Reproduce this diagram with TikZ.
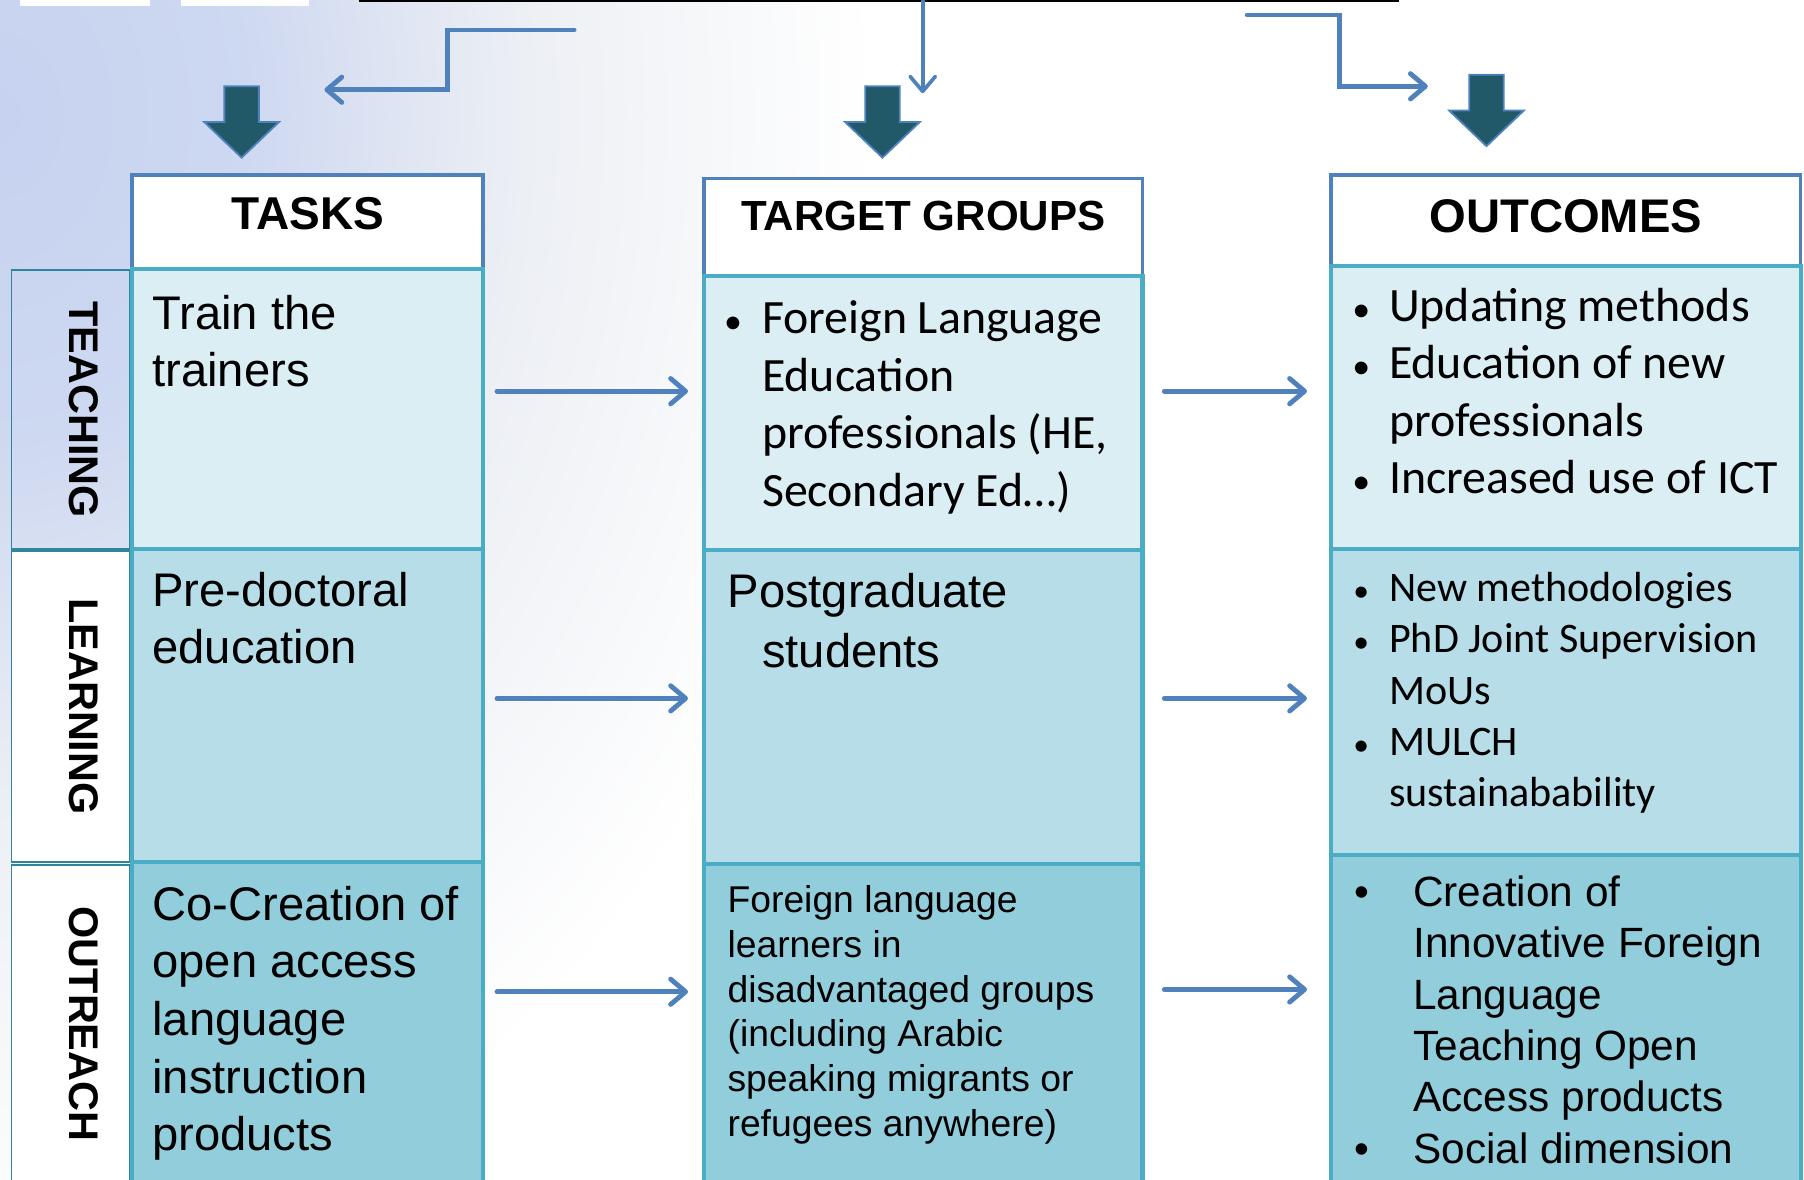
\documentclass[tikz,border=0pt]{standalone}
\usepackage{fontspec}
\setmainfont{Liberation Sans}
\newfontfamily\calib{Carlito}
\usetikzlibrary{arrows.meta}

\definecolor{hdrblue}{HTML}{4F81BD}
\definecolor{rowline}{HTML}{4BACC6}
\definecolor{rowA}{HTML}{DAEEF3}
\definecolor{rowB}{HTML}{B7DEE8}
\definecolor{rowC}{HTML}{92CDDC}
\definecolor{lblline}{HTML}{31849B}
\definecolor{darkarrow}{HTML}{215968}
\definecolor{bgblue}{HTML}{C6D2F0}
\definecolor{bggrey}{HTML}{ECEFF4}
\pgfdeclareradialshading{bgshade}{\pgfpoint{0bp}{0bp}}{color(0bp)=(bgblue); color(7bp)=(bgblue!80!bggrey); color(15bp)=(bggrey); color(25bp)=(white); color(50bp)=(white)}

\newcommand\boxnode[6]{%
  \node[#1, anchor=north west, inner sep=0pt, outer sep=0pt,
        minimum width={(#5-#3)*0.5pt}, minimum height={(#6-#4)*0.5pt}] (#2) at (#3,#4) {};}
\newcommand\blockarrow[4]{% cx, top, head base, tip
  \draw[blockarr] ({#1-15},#2) -- ({#1+15},#2) -- ({#1+15},#3) -- ({#1+32.5},#3)
     -- (#1,#4) -- ({#1-32.5},#3) -- ({#1-15},#3) -- cycle;}
\newcommand\bul[1]{\makebox[#1][l]{\scalebox{0.75}{•}}}

\tikzset{
  hdr/.style={draw=hdrblue, line width=1.6pt, fill=white},
  rowa/.style={draw=rowline, line width=1.8pt, fill=rowA},
  rowb/.style={draw=rowline, line width=1.8pt, fill=rowB},
  rowc/.style={draw=rowline, line width=1.8pt, fill=rowC},
  lbl/.style={draw=lblline, line width=0.8pt},
  arr/.style={draw=hdrblue, line width=2.1pt, line cap=round,
              -{Straight Barb[length=6.5pt,width=11pt,line cap=round,line join=round]}},
  blockarr/.style={fill=darkarrow, draw=hdrblue, line width=0.8pt},
  hdrtxt/.style={font=\bfseries\fontsize{20}{24}\selectfont, inner sep=0pt},
  lbltxt/.style={font=\bfseries\fontsize{18}{20}\selectfont, rotate=-90, inner sep=0pt},
  txt/.style={anchor=base west, inner sep=0pt, text=black},
}

\begin{document}
\begin{tikzpicture}[x=0.5pt, y=-0.5pt]
\useasboundingbox (0,0) rectangle (1568,1025);
% background
\begin{scope}
  \clip (0,0) rectangle (1568,1025);
  \fill[white] (0,0) rectangle (1568,1025);
  \shade[shading=bgshade] (-760,-900) rectangle (760,1100);
  \fill[white] (17,-4) rectangle (130,5);
  \fill[white] (157,-4) rectangle (269,5);
\end{scope}

% top line and connectors
\coordinate (bl1) at (312,1);
\coordinate (bl2) at (1216,1);
\draw[black, line width=1pt] (bl1) -- (bl2);

\coordinate (e1s) at (499,26);
\coordinate (e1t) at (282,78);
\draw[arr] (e1s) -- (389,26) |- (e1t);

\coordinate (mtip) at (802,81);
\draw[arr, line width=1.6pt] (bl1 -| mtip) -- (mtip);

\coordinate (e3s) at (1084,13);
\coordinate (e3t) at (1241,75);
\draw[arr] (e3s) -- (1164,13) |- (e3t);

% block arrows
\blockarrow{210}{75}{106}{137}
\blockarrow{767}{75}{106}{137}
\blockarrow{1292}{65}{96}{127}

% left label boxes
\boxnode{lbl}{l1}{10}{235}{113}{477}
\boxnode{lbl, fill=white}{l2}{10}{479}{113}{749}
\boxnode{lbl, fill=white}{l3}{10}{752}{113}{1040}
\node[lbltxt] (lt1) at (73,356) {TEACHING};
\node[lbltxt] (lt2) at (73,614) {LEARNING};
\node[lbltxt] (lt3) at (73,890) {OUTREACH};

% TASKS column
\boxnode{hdr}{th}{115}{152}{420}{234}
\boxnode{rowa}{ta1}{115}{234}{420}{477}
\boxnode{rowb}{ta2}{115}{477}{420}{749}
\boxnode{rowc}{ta3}{115}{749}{420}{1040}
% TARGET GROUPS column
\boxnode{hdr}{gh}{612}{155}{993}{240}
\boxnode{rowa}{g1}{612}{240}{993}{478}
\boxnode{rowb}{g2}{612}{478}{993}{751}
\boxnode{rowc}{g3}{612}{751}{993}{1040}
% OUTCOMES column
\boxnode{hdr}{oh}{1157}{152}{1565}{231}
\boxnode{rowa}{o1}{1157}{231}{1565}{477}
\boxnode{rowb}{o2}{1157}{477}{1565}{743}
\boxnode{rowc}{o3}{1157}{743}{1565}{1040}

% headers
\node[hdrtxt] (tht) at (th.center |- 0,186) {TASKS};
\node[hdrtxt, font=\bfseries\fontsize{18.3}{22}\selectfont] (ght) at (gh.center |- 0,188) {TARGET GROUPS};
\node[hdrtxt, font=\bfseries\fontsize{20.5}{24}\selectfont] (oht) at (oh.center |- 0,188) {OUTCOMES};

% TASKS texts
\node[txt, font=\fontsize{20.5}{25}\selectfont] (tx1) at (132,286)
  {\begin{tabular}[t]{@{}l@{}}Train the\\trainers\end{tabular}};
\node[txt, font=\fontsize{20.5}{25}\selectfont] (tx2) at (132,527)
  {\begin{tabular}[t]{@{}l@{}}Pre-doctoral\\education\end{tabular}};
\node[txt, font=\fontsize{20.5}{25}\selectfont] (tx3) at (132,800)
  {\begin{tabular}[t]{@{}l@{}}Co-Creation of\\open access\\language\\instruction\\products\end{tabular}};

% TARGET texts
\node[txt, font=\calib\fontsize{20.8}{25}\selectfont] (gx1) at (629,290)
  {\begin{tabular}[t]{@{}l@{}l@{}}\bul{16.5pt}&Foreign Language\\&Education\\&professionals (HE,\\&Secondary Ed…)\end{tabular}};
\node[txt, font=\fontsize{20.5}{26}\selectfont] (gx2) at (632,528)
  {\begin{tabular}[t]{@{}l@{}}Postgraduate\\\hspace{15pt}students\end{tabular}};
\node[txt, font=\fontsize{16.2}{19.5}\selectfont] (gx3) at (632,793)
  {\begin{tabular}[t]{@{}l@{}}Foreign language\\learners in\\disadvantaged groups\\(including Arabic\\speaking migrants or\\refugees anywhere)\end{tabular}};

% OUTCOMES texts
\node[txt, font=\calib\fontsize{20.8}{25}\selectfont] (ox1) at (1175,279)
  {\begin{tabular}[t]{@{}l@{}l@{}}\bul{16pt}&Updating methods\\\bul{16pt}&Education of new\\&professionals\\\bul{16pt}&Increased use of ICT\end{tabular}};
\node[txt, font=\calib\fontsize{18.3}{22.25}\selectfont] (ox2) at (1176,523)
  {\begin{tabular}[t]{@{}l@{}l@{}}\bul{15.5pt}&New methodologies\\\bul{15.5pt}&PhD Joint Supervision\\&MoUs\\\bul{15.5pt}&MULCH\\&sustainabability\end{tabular}};
\node[txt, font=\fontsize{18.4}{22.3}\selectfont] (ox3) at (1177,788)
  {\begin{tabular}[t]{@{}l@{}l@{}}\makebox[25.5pt][l]{•}&Creation of\\&Innovative Foreign\\&Language\\&Teaching Open\\&Access products\\\makebox[25.5pt][l]{•}&Social dimension\end{tabular}};

% horizontal connectors
\coordinate (ay1) at (0,340);
\coordinate (ay2) at (0,607);
\coordinate (ay3) at (0,862);
\coordinate (by3) at (0,860);
\draw[arr, shorten <=6pt, shorten >=7pt] (ta1.east |- ay1) -- (g1.west |- ay1);
\draw[arr, shorten <=6pt, shorten >=7pt] (ta2.east |- ay2) -- (g2.west |- ay2);
\draw[arr, shorten <=6pt, shorten >=7pt] (ta3.east |- ay3) -- (g3.west |- ay3);
\draw[arr, shorten <=9.5pt, shorten >=10.5pt] (g1.east |- ay1) -- (o1.west |- ay1);
\draw[arr, shorten <=9.5pt, shorten >=10.5pt] (g2.east |- ay2) -- (o2.west |- ay2);
\draw[arr, shorten <=9.5pt, shorten >=10.5pt] (g3.east |- by3) -- (o3.west |- by3);
\end{tikzpicture}
\end{document}
